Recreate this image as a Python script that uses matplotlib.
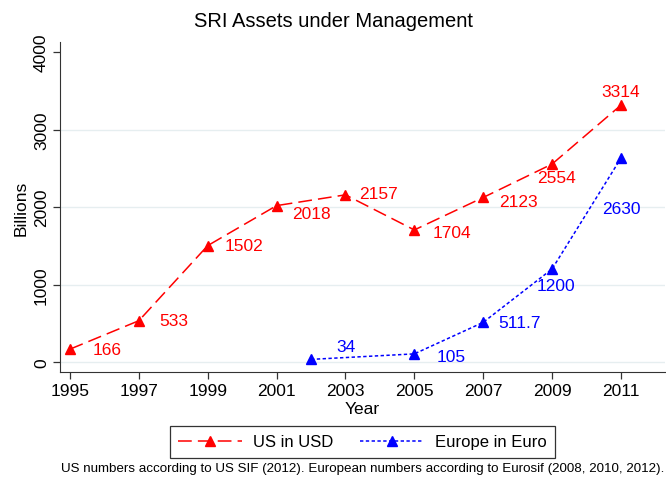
import numpy as np
import matplotlib
matplotlib.use("Agg")
import matplotlib.pyplot as plt

plt.rcParams['font.family'] = ['Liberation Sans', 'DejaVu Sans']

# data
us_years = [1995, 1997, 1999, 2001, 2003, 2005, 2007, 2009, 2011]
us_values = [166, 533, 1502, 2018, 2157, 1704, 2123, 2554, 3314]
us_labels = ["166", "533", "1502", "2018", "2157", "1704", "2123", "2554", "3314"]

eu_years = [2002, 2005, 2007, 2009, 2011]
eu_values = [34, 105, 511.7, 1200, 2630]
eu_labels = ["34", "105", "511.7", "1200", "2630"]

x_ticks = [1995, 1997, 1999, 2001, 2003, 2005, 2007, 2009, 2011]
y_ticks = [0, 1000, 2000, 3000, 4000]

# label offsets in points (style, not data)
us_offsets = [(16, 0), (15, 0), (12, 0), (11, -6), (10, 1), (13, -2), (11.5, -3), (3, -10), (0, 10)]
eu_offsets = [(18, 9), (16, -2), (11, 0), (3, -12), (0, -36)]

fig = plt.figure(figsize=(6.66, 4.81), dpi=100)
ax = fig.add_axes([0.0901, 0.2245, 0.9084, 0.6861])

ax.plot(us_years, us_values, color='red', lw=1.1, dashes=(9, 4),
        marker='^', markersize=7, label='US in USD')
ax.plot(eu_years, eu_values, color='blue', lw=1.1, dashes=(2.2, 1.6),
        marker='^', markersize=7, label='Europe in Euro')

for x, y, t, o in zip(us_years, us_values, us_labels, us_offsets):
    ax.annotate(t, (x, y), xytext=o, textcoords='offset points', color='red',
                fontsize=12.5, ha='left' if o[0] > 5 else 'center', va='center')
for x, y, t, o in zip(eu_years, eu_values, eu_labels, eu_offsets):
    ax.annotate(t, (x, y), xytext=o, textcoords='offset points', color='blue',
                fontsize=12.5, ha='left' if o[0] > 5 else 'center', va='center')

ax.set_xlim(1994.71, 2012.28)
ax.set_ylim(-129, 4129)
ax.set_xticks(x_ticks)
ax.set_yticks(y_ticks)
ax.set_yticklabels([str(v) for v in y_ticks], rotation=90, va='center')
ax.tick_params(labelsize=12.5, length=5, color='#333333', width=0.9, pad=3)

for v in y_ticks[:-1]:
    ax.axhline(v, color='#e6eef0', lw=1, zorder=0)

ax.spines['top'].set_visible(False)
ax.spines['right'].set_visible(False)
ax.spines['left'].set_color('#333333')
ax.spines['bottom'].set_color('#333333')

ax.set_xlabel("Year", fontsize=12.5, labelpad=2)
ax.set_ylabel("Billions", fontsize=12.5, labelpad=4)
fig.text(0.5, 0.956, "SRI Assets under Management", fontsize=14.5, ha='center', va='center')

leg = ax.legend(loc='upper center', bbox_to_anchor=(0.5, -0.164), ncol=2, fontsize=12,
                frameon=True, fancybox=False, edgecolor='black', handlelength=3.8,
                handletextpad=0.7, columnspacing=1.6, borderpad=0.5, borderaxespad=0)
leg.get_frame().set_linewidth(0.9)

fig.text(0.998, 0.024, "US numbers according to US SIF (2012). European numbers according to Eurosif (2008, 2010, 2012).",
         fontsize=9.6, ha='right', va='center')

fig.savefig("out.png", dpi=100)
